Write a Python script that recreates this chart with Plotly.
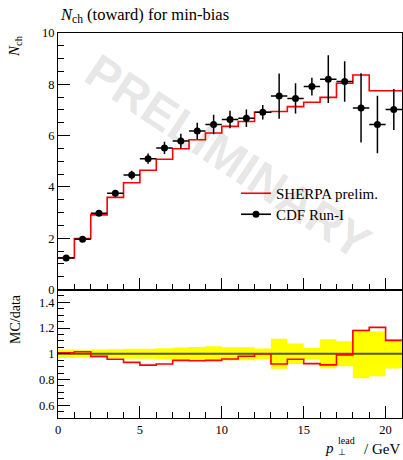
import plotly.graph_objects as go

# ---- data ----
bin_edges = [0, 1, 2, 3, 4, 5, 6, 7, 8, 9, 10, 11, 12, 13, 14, 15, 16, 17, 18, 19, 20, 21]
cdf_values = [1.23, 1.96, 2.97, 3.75, 4.46, 5.10, 5.52, 5.79, 6.18, 6.43, 6.63, 6.68, 6.91,
              7.54, 7.45, 7.91, 8.20, 8.11, 7.08, 6.43, 7.02]
cdf_errors = [0.04, 0.06, 0.10, 0.13, 0.17, 0.20, 0.24, 0.28, 0.32, 0.38, 0.34, 0.34, 0.28,
              0.88, 0.59, 0.35, 0.93, 0.79, 1.35, 1.12, 0.80]
sherpa_values = [1.24, 1.99, 2.91, 3.59, 4.16, 4.65, 5.08, 5.49, 5.84, 6.10, 6.36, 6.55, 6.91,
                 6.94, 7.13, 7.30, 7.49, 8.04, 8.36, 7.75, 7.75]
x_ticks = [0, 5, 10, 15, 20]
y_ticks_main = [0, 2, 4, 6, 8, 10]
y_ticks_ratio = [0.6, 0.8, 1.0, 1.2, 1.4]

W, H = 403, 460
L, R, T, B = 58, 1, 33, 42
PW = W - L - R
PH = H - T - B
ratio_frac = 128.5 / PH

centers = [(a + b) / 2 for a, b in zip(bin_edges[:-1], bin_edges[1:])]
halfw = [(b - a) / 2 for a, b in zip(bin_edges[:-1], bin_edges[1:])]

def steps(vals):
    return list(bin_edges), list(vals) + [vals[-1]]

def px(xp):
    return (xp - L) / PW

def py(yp):
    return (H - B - yp) / PH

serif = "Liberation Serif"
fig = go.Figure()

# main panel: SHERPA step
sx, sy = steps(sherpa_values)
fig.add_trace(go.Scatter(x=sx, y=sy, mode="lines", line=dict(color="#ff0000", width=1.6, shape="hv"),
                         name="SHERPA prelim.", legend="legend", xaxis="x", yaxis="y"))
# data
fig.add_trace(go.Scatter(x=centers, y=cdf_values, mode="markers", name="CDF Run-I",
                         marker=dict(color="black", size=7), showlegend=False,
                         error_y=dict(type="data", array=cdf_errors, color="black", thickness=1.5, width=0),
                         error_x=dict(type="data", array=halfw, color="black", thickness=1.5, width=0),
                         xaxis="x", yaxis="y"))
# legend proxy for data (line + dot, like reference)
fig.add_trace(go.Scatter(x=[None], y=[None], mode="lines+markers", name="CDF Run-I", legend="legend2",
                         line=dict(color="black", width=1.6), marker=dict(color="black", size=7),
                         xaxis="x", yaxis="y"))

# ratio panel band
rel = [e / v for e, v in zip(cdf_errors, cdf_values)]
lo = [1 - r for r in rel]
hi = [1 + r for r in rel]
lx, ly = steps(lo)
hx, hy = steps(hi)
fig.add_trace(go.Scatter(x=lx, y=ly, mode="lines", line=dict(color="rgba(0,0,0,0)", width=0, shape="hv"),
                         showlegend=False, xaxis="x2", yaxis="y2", hoverinfo="skip"))
fig.add_trace(go.Scatter(x=hx, y=hy, mode="lines", line=dict(color="rgba(0,0,0,0)", width=0, shape="hv"),
                         fill="tonexty", fillcolor="#ffff00", showlegend=False, xaxis="x2", yaxis="y2",
                         hoverinfo="skip"))
fig.add_trace(go.Scatter(x=[bin_edges[0], bin_edges[-1]], y=[1, 1], mode="lines",
                         line=dict(color="#5a5a00", width=2), showlegend=False, xaxis="x2", yaxis="y2"))
ratio = [s / d for s, d in zip(sherpa_values, cdf_values)]
rx, ry = steps(ratio)
fig.add_trace(go.Scatter(x=rx, y=ry, mode="lines", line=dict(color="#ff0000", width=1.6, shape="hv"),
                         showlegend=False, xaxis="x2", yaxis="y2"))

axis_common = dict(showline=True, linecolor="black", linewidth=1, mirror=True, ticks="inside",
                   tickcolor="black", showgrid=False, zeroline=False,
                   tickfont=dict(family=serif, size=12.5, color="black"))

legend_common = dict(xanchor="left", yanchor="top", bgcolor="rgba(0,0,0,0)",
                     font=dict(family=serif, size=15, color="black"), itemwidth=30)

fig.update_layout(
    width=W, height=H, margin=dict(l=L, r=R, t=T, b=B),
    paper_bgcolor="white", plot_bgcolor="white",
    font=dict(family=serif, color="black"),
    xaxis=dict(domain=[0, 1], range=[0, 21], anchor="y", showticklabels=False, tickvals=x_ticks,
               ticklen=12, minor=dict(dtick=1, ticklen=6, ticks="inside", tickcolor="black"),
               **axis_common),
    yaxis=dict(domain=[ratio_frac, 1], range=[0, 10], anchor="x", tickvals=y_ticks_main,
               ticklen=12, minor=dict(dtick=0.5, ticklen=6, ticks="inside", tickcolor="black"),
               **axis_common),
    xaxis2=dict(domain=[0, 1], range=[0, 21], anchor="y2", matches="x", tickvals=x_ticks,
                ticklen=12, minor=dict(dtick=1, ticklen=6, ticks="inside", tickcolor="black"),
                **axis_common),
    yaxis2=dict(domain=[0, ratio_frac], range=[0.5, 1.5], anchor="x2", tickvals=y_ticks_ratio,
                ticktext=[f"{v:g}" for v in y_ticks_ratio],
                ticklen=12, minor=dict(dtick=0.05, ticklen=6, ticks="inside", tickcolor="black"),
                **axis_common),
    showlegend=True,
    legend=dict(x=px(236), y=py(177), **legend_common),
    legend2=dict(x=px(236), y=py(198), **legend_common),
)

ann = [
    dict(text="<i>N</i><sub>ch</sub> (toward) for min-bias", x=px(58), y=py(15), xanchor="left",
         yanchor="middle", font=dict(size=16.5)),
    dict(text="<i>N</i><sub>ch</sub>", x=px(15), y=py(33), xanchor="center", yanchor="top",
         textangle=-90, font=dict(size=15)),
    dict(text="MC/data", x=px(15), y=py(292), xanchor="center", yanchor="top",
         textangle=-90, font=dict(size=14)),
    dict(text="/ GeV", x=px(402), y=py(449), xanchor="right", yanchor="middle", font=dict(size=15)),
    dict(text="<i>p</i>", x=px(336), y=py(448), xanchor="right", yanchor="middle", font=dict(size=15)),
    dict(text="⊥", x=px(336), y=py(452), xanchor="left", yanchor="middle", font=dict(size=9)),
    dict(text="lead", x=px(336), y=py(440), xanchor="left", yanchor="middle", font=dict(size=10)),
    dict(text="<b>PRELIMINARY</b>", x=px(228), y=py(156), xanchor="center", yanchor="middle",
         textangle=33.5, font=dict(family="Liberation Sans", size=48, color="rgba(0,0,0,0.11)")),
]
for a in ann:
    a.setdefault("xref", "paper")
    a.setdefault("yref", "paper")
    a["showarrow"] = False
    a["font"].setdefault("family", serif)
    a["font"].setdefault("color", "black")
fig.update_layout(annotations=ann)

fig.write_html("out.html", config={"displayModeBar": False},
               post_script="document.body.style.margin='0';document.body.style.overflow='hidden';")
